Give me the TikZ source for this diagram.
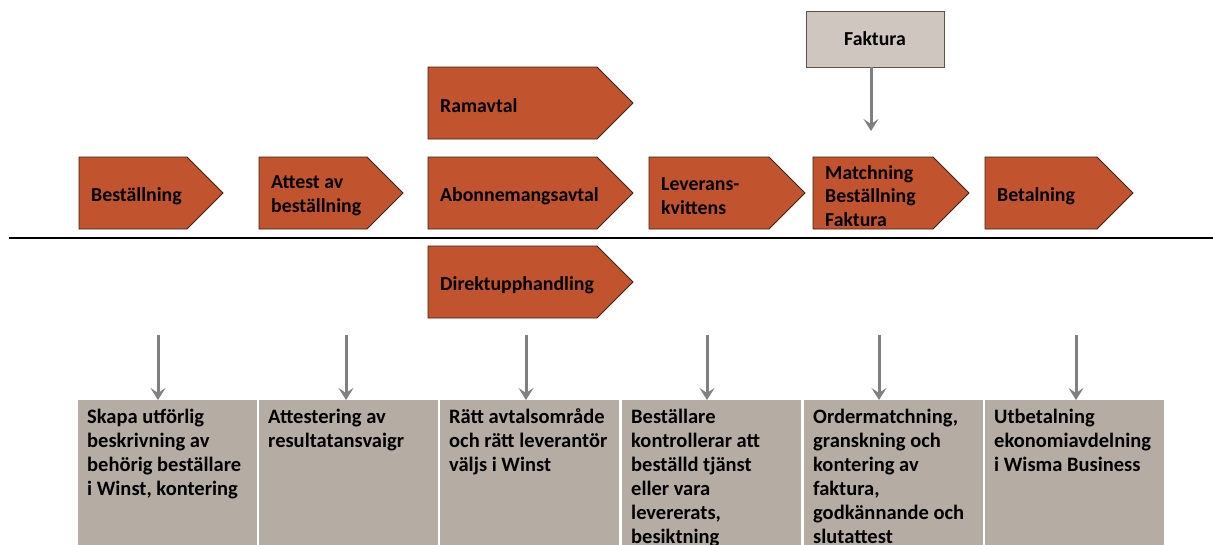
\documentclass[tikz,border=0pt]{standalone}
\usepackage{fontspec}
\setmainfont{Carlito}
\usetikzlibrary{arrows.meta}
\definecolor{rust}{HTML}{C1532F}
\definecolor{rustline}{HTML}{3A2418}
\definecolor{boxgray}{HTML}{B5ADA4}
\definecolor{fakgray}{HTML}{CEC6BF}
\definecolor{arrowgray}{HTML}{808080}
\tikzset{
  stepbody/.style={fill=rust, draw=rustline, line width=0.8pt, line join=miter},
  steptext/.style={font=\fontsize{19.8}{23.5}\selectfont\bfseries, align=left, inner sep=0pt, text=black},
  infobox/.style={fill=boxgray, draw=none, anchor=north west, minimum width=179, minimum height=160, inner sep=0pt},
  infotext/.style={font=\fontsize{20.5}{24}\selectfont\bfseries, align=left, anchor=north west, inner xsep=9, inner ysep=8.5, text=black},
  fakbox/.style={fill=fakgray, draw=rustline!80, line width=0.8pt, minimum width=138, minimum height=56, inner sep=0pt, font=\fontsize{19.8}{23.5}\selectfont\bfseries},
  garrow/.style={draw=arrowgray, line width=3pt, -{Stealth[length=12pt,width=15pt,inset=5pt]}},
  divider/.style={line width=2.5pt, draw=black}
}
\newcommand\stepshape[5]{%
  \path[stepbody] (#2,#3) -- ++(#4-36,0) -- ++(36,36) -- ++(-36,36) -- ++(36-#4,0) -- cycle;
  \node[steptext, anchor=west] (#1) at (#2+12,#3+39) {#5};}
\begin{document}
\begin{tikzpicture}[x=1pt,y=-1pt]
\useasboundingbox (0,0) rectangle (1213,544);
\clip (0,0) rectangle (1213,544);
\fill[white] (0,0) rectangle (1213,544);

% top process steps
\stepshape{bes}{79}{157}{144}{Beställning}
\stepshape{att}{259}{157}{144}{Attest av\\beställning}
\stepshape{ram}{428}{67}{205}{Ramavtal}
\stepshape{abo}{428}{157}{205}{Abonnemangsavtal}
\stepshape{dir}{428}{246}{205}{Direktupphandling}
\stepshape{lev}{649}{157}{156}{Leverans-\\kvittens}
\stepshape{mat}{813}{157}{156}{Matchning\\Beställning\\Faktura}
\stepshape{bet}{985}{157}{148}{Betalning}

% Faktura
\node[fakbox] (fak) at (875,39) {Faktura};
\coordinate (fakend) at (871,131);
\draw[garrow] (fak.south -| fakend) -- (fakend);

% divider line
\coordinate (lineL) at (9,238);
\coordinate (lineR) at (1213,238);
\draw[divider] (lineL) -- (lineR);

% bottom boxes
\node[infobox] (b1) at (78,400) {};
\node[infobox] (b2) at (259,400) {};
\node[infobox] (b3) at (440,400) {};
\node[infobox] (b4) at (622,400) {};
\node[infobox] (b5) at (804,400) {};
\node[infobox] (b6) at (985,400) {};

\node[infotext] (t1) at (b1.north west) {Skapa utförlig\\beskrivning av\\behörig beställare\\i Winst, kontering};
\node[infotext] (t2) at (b2.north west) {Attestering av\\resultatansvaigr};
\node[infotext] (t3) at (b3.north west) {Rätt avtalsområde\\och rätt leverantör\\väljs i Winst};
\node[infotext] (t4) at (b4.north west) {Beställare\\kontrollerar att\\beställd tjänst\\eller vara\\levererats,\\besiktning};
\node[infotext] (t5) at (b5.north west) {Ordermatchning,\\granskning och\\kontering av\\faktura,\\godkännande och\\slutattest};
\node[infotext] (t6) at (b6.north west) {Utbetalning\\ekonomiavdelning\\i Wisma Business};

% bottom arrows
\coordinate (a1) at (158,335);
\coordinate (a2) at (346,335);
\coordinate (a3) at (526,335);
\coordinate (a4) at (707,335);
\coordinate (a5) at (879,335);
\coordinate (a6) at (1076,335);
\draw[garrow] (a1) -- (a1 |- b1.north);
\draw[garrow] (a2) -- (a2 |- b2.north);
\draw[garrow] (a3) -- (a3 |- b3.north);
\draw[garrow] (a4) -- (a4 |- b4.north);
\draw[garrow] (a5) -- (a5 |- b5.north);
\draw[garrow] (a6) -- (a6 |- b6.north);
\end{tikzpicture}
\end{document}
